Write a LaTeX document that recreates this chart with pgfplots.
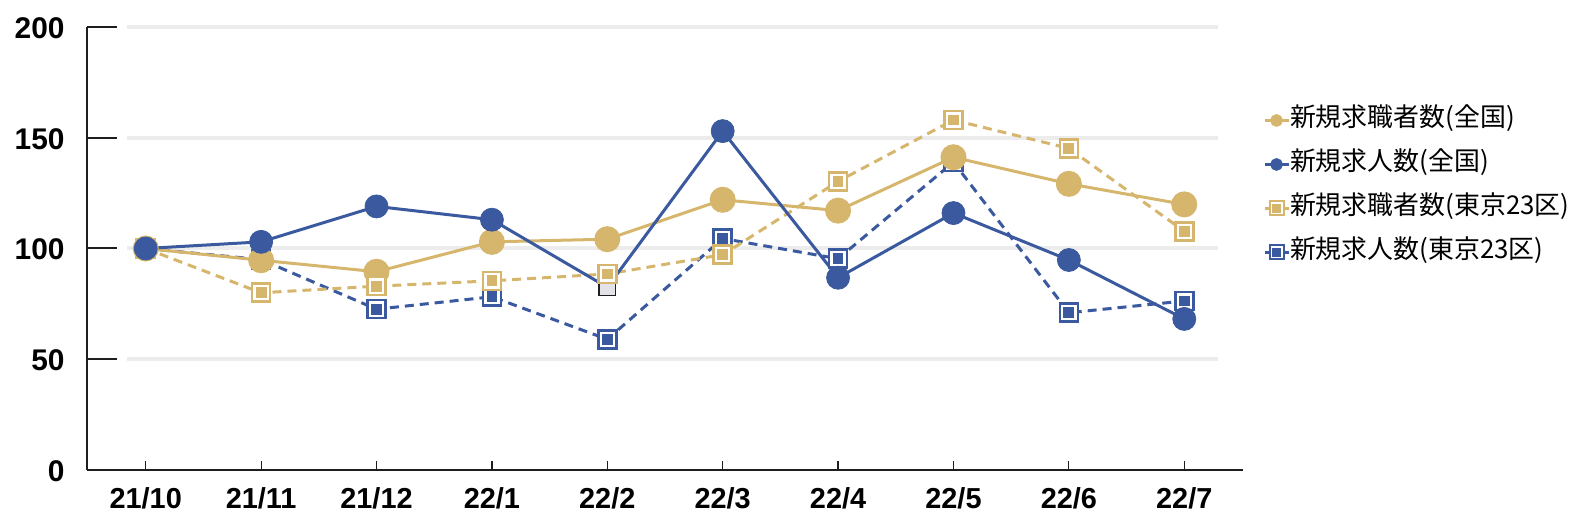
\documentclass[border=0pt]{standalone}
\usepackage{fontspec}
\setmainfont{Noto Sans CJK JP}
\newfontfamily\tickfont{Liberation Sans}
\usepackage{pgfplots}
\pgfplotsset{compat=1.18}
\definecolor{cB}{RGB}{58,89,158}
\definecolor{cG}{RGB}{214,182,108}
\definecolor{cGrid}{RGB}{236,236,236}
\definecolor{cGray}{RGB}{226,226,232}
\definecolor{cAx}{RGB}{30,30,30}
\pgfdeclareplotmark{dsqB}{%
  \pgfpathrectangle{\pgfpoint{-\pgfplotmarksize}{-\pgfplotmarksize}}{\pgfpoint{2\pgfplotmarksize}{2\pgfplotmarksize}}%
  \pgfsetfillcolor{white}\pgfsetstrokecolor{cB}\pgfusepath{fill,stroke}%
  \pgfpathrectangle{\pgfpoint{-0.6\pgfplotmarksize}{-0.6\pgfplotmarksize}}{\pgfpoint{1.2\pgfplotmarksize}{1.2\pgfplotmarksize}}%
  \pgfsetfillcolor{cB}\pgfusepath{fill}}
\pgfdeclareplotmark{dsqG}{%
  \pgfpathrectangle{\pgfpoint{-\pgfplotmarksize}{-\pgfplotmarksize}}{\pgfpoint{2\pgfplotmarksize}{2\pgfplotmarksize}}%
  \pgfsetfillcolor{white}\pgfsetstrokecolor{cG}\pgfusepath{fill,stroke}%
  \pgfpathrectangle{\pgfpoint{-0.6\pgfplotmarksize}{-0.6\pgfplotmarksize}}{\pgfpoint{1.2\pgfplotmarksize}{1.2\pgfplotmarksize}}%
  \pgfsetfillcolor{cG}\pgfusepath{fill}}
\begin{document}
\begin{tikzpicture}
\path[use as bounding box] (0,0) rectangle (798bp,260bp);
\begin{axis}[
  at={(43.5bp,25bp)}, anchor=south west,
  scale only axis, width=578bp, height=221.5bp,
  xmin=-0.509, xmax=9.509, ymin=0, ymax=200,
  axis lines=left, axis line style={-, line width=1bp, color=cAx},
  xtick={0,1,2,3,4,5,6,7,8,9},
  xticklabels={21/10,21/11,21/12,22/1,22/2,22/3,22/4,22/5,22/6,22/7},
  ytick={0,50,100,150,200},
  tick align=inside,
  major tick length=4.5bp,
  xtick style={line width=0.6bp, color=cAx},
  ytick style={draw=none},
  /pgf/number format/assume math mode=true,
  xticklabel style={font=\tickfont\fontsize{14.5}{16}\selectfont\bfseries, text=black, inner sep=0pt, yshift=-8.5bp},
  yticklabel style={font=\tickfont\fontsize{15}{17}\selectfont\bfseries, text=black, inner sep=0pt, xshift=-11bp, yshift=-0.5bp},
  clip=false,
  legend image code/.code={\draw[mark repeat=2,mark phase=2,#1] plot coordinates {(0bp,0bp) (6bp,0bp) (12bp,0bp)};},
  legend style={at={(1.017,0.817)}, anchor=north west, draw=none, fill=none,
    inner sep=0pt, row sep=10bp, column sep=0bp,
    font=\fontsize{13}{15}\selectfont,
    nodes={inner sep=0pt, text height=9bp, text depth=3bp, xshift=7bp}},
  legend cell align=left,
]
\addlegendimage{cG, line width=1.5bp, mark=*, mark size=2.4bp}
\addlegendentry{新規求職者数(全国)}
\addlegendimage{cB, line width=1.5bp, mark=*, mark size=2.4bp}
\addlegendentry{新規求人数(全国)}
\addlegendimage{cG, line width=1.5bp, mark=dsqG, mark size=3.5bp, mark options={line width=1bp}}
\addlegendentry{新規求職者数(東京23区)}
\addlegendimage{cB, line width=1.5bp, mark=dsqB, mark size=3.5bp, mark options={line width=1bp}}
\addlegendentry{新規求人数(東京23区)}

% grid lines
\addplot[cGrid, line width=2bp, forget plot] coordinates {(-0.162,50) (9.292,50)};
\addplot[cGrid, line width=2bp, forget plot] coordinates {(-0.162,100) (9.292,100)};
\addplot[cGrid, line width=2bp, forget plot] coordinates {(-0.162,150) (9.292,150)};
\addplot[cGrid, line width=2bp, forget plot] coordinates {(-0.162,200) (9.292,200)};
% y ticks
\addplot[cAx, line width=1bp, forget plot] coordinates {(-0.509,50) (-0.249,50)};
\addplot[cAx, line width=1bp, forget plot] coordinates {(-0.509,100) (-0.249,100)};
\addplot[cAx, line width=1bp, forget plot] coordinates {(-0.509,150) (-0.249,150)};
\addplot[cAx, line width=1bp, forget plot] coordinates {(-0.509,200) (-0.249,200)};

% 新規求人数(東京23区)
\addplot[cB, line width=1.5bp, dash pattern=on 4.5bp off 3bp, mark=dsqB, mark size=4.5bp, mark options={solid, line width=1.3bp}, forget plot]
  coordinates {(0,100) (1,95) (2,72.6) (3,78.2) (4,59) (5,104.5) (6,95.4) (7,139) (8,71) (9,76.3)};
% 新規求職者数(全国)
\addplot[cG, line width=1.5bp, mark=*, mark size=5.75bp, forget plot]
  coordinates {(0,100) (1,94.7) (2,89.5) (3,103) (4,104.2) (5,122) (6,117.1) (7,141.2) (8,129.2) (9,119.9)};
% stray marker of 新規求人数(全国) at 22/2
\addplot[only marks, mark=square*, mark size=4.2bp, mark options={fill=cGray, draw=cAx, line width=0.6bp}, forget plot]
  coordinates {(4,82.5)};
% 新規求職者数(東京23区)
\addplot[cG, line width=1.5bp, dash pattern=on 4.5bp off 3bp, mark=dsqG, mark size=4.5bp, mark options={solid, line width=1.3bp}, forget plot]
  coordinates {(0,100) (1,80) (2,83) (3,85.4) (4,88.5) (5,97.2) (6,130.3) (7,158) (8,145.2) (9,107.8)};
% 新規求人数(全国)
\addplot[cB, line width=1.5bp, forget plot]
  coordinates {(0,100) (1,103) (2,119) (3,113) (4,82.5) (5,153) (6,86.8) (7,116) (8,94.8) (9,68.2)};
\addplot[cB, only marks, mark=*, mark size=5.75bp, forget plot]
  coordinates {(0,100) (1,103) (2,119) (3,113) (5,153) (6,86.8) (7,116) (8,94.8) (9,68.2)};
\end{axis}
\end{tikzpicture}
\end{document}
